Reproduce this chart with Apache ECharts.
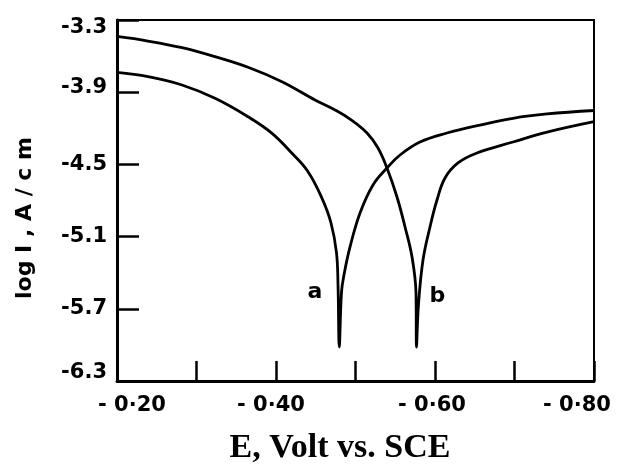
<!DOCTYPE html>
<html>
<head>
<meta charset="utf-8">
<script src="https://cdn.jsdelivr.net/npm/echarts@6/dist/echarts.min.js"></script>
<style>html,body{margin:0;padding:0;background:#fff;}#c{width:617px;height:464px;}</style>
</head>
<body>
<div id="c"></div>
<script>
// Curve a: E (V vs SCE), log I
const curveA_E = [-0.2000,-0.2390,-0.2818,-0.3233,-0.3648,-0.3950,-0.4201,-0.4403,-0.4579,-0.4692,-0.4761,-0.4780,-0.4796,-0.4824,-0.4855,-0.4931,-0.5057,-0.5220,-0.5396,-0.5560,-0.5811,-0.6151,-0.6566,-0.6981,-0.7409,-0.8000];
const curveA_logI = [-3.736,-3.771,-3.840,-3.951,-4.104,-4.242,-4.408,-4.561,-4.782,-4.987,-5.236,-5.502,-6.018,-5.560,-5.419,-5.186,-4.904,-4.671,-4.530,-4.422,-4.314,-4.239,-4.173,-4.117,-4.081,-4.052];
// Curve b
const curveB_E = [-0.2000,-0.2390,-0.2818,-0.3233,-0.3648,-0.4075,-0.4491,-0.4743,-0.4931,-0.5145,-0.5283,-0.5396,-0.5522,-0.5623,-0.5711,-0.5761,-0.5767,-0.5792,-0.5849,-0.5937,-0.6025,-0.6126,-0.6289,-0.6528,-0.6981,-0.7409,-0.8000];
const curveB_logI = [-3.437,-3.475,-3.530,-3.605,-3.693,-3.813,-3.965,-4.048,-4.123,-4.239,-4.364,-4.530,-4.771,-5.020,-5.270,-5.569,-6.018,-5.668,-5.295,-5.020,-4.796,-4.613,-4.488,-4.405,-4.314,-4.231,-4.144];
const curveLabels = ['a','b'];
const labelPosA = [-0.449,-5.56];
const labelPosB = [-0.603,-5.60];
const yTickLabels = ['-6.3','-5.7','-5.1','-4.5','-3.9','-3.3'];
const xTickLabels = ['- 0·20','- 0·40','- 0·60','- 0·80'];
const xTitle = 'E, Volt vs. SCE';
const yTitle = 'log I , A / c m';

const zip = (xs, ys) => xs.map((x, i) => [x, ys[i]]);
const chart = echarts.init(document.getElementById('c'), null, {renderer:'canvas'});
const numFont = '"DejaVu Sans", sans-serif';

function xLabel(v){
  const k = Math.round(-v*100);
  const map = {20:0,40:1,60:2,80:3};
  if(map[k] === undefined) return '';
  const t = xTickLabels[map[k]];
  if(k===20) return '{l|' + t + '}';
  if(k===80) return '{r|' + t + '}';
  if(k===40) return '{m|' + t + '}';
  return '{n|' + t + '}';
}
function yLabel(v){
  const s = v.toFixed(1);
  const idx = yTickLabels.indexOf(s);
  if(idx < 0) return '';
  const t = yTickLabels[idx];
  if(idx === 5) return '{dn|' + t + '}';
  if(idx === 0) return '{up|' + t + '}';
  if(idx === 4) return '{up2|' + t + '}';
  return '{n|' + t + '}';
}

const lblStyle = {fontFamily:numFont,fontSize:21,fontWeight:'bold',color:'#000'};

chart.setOption({
  animation:false,
  backgroundColor:'#fff',
  grid:{left:117,right:23,top:20,bottom:83,show:true,borderColor:'#000',borderWidth:2,containLabel:false},
  xAxis:{
    type:'value', inverse:true, min:-0.8, max:-0.2, interval:0.1,
    axisLine:{show:true,lineStyle:{color:'#000',width:3}},
    axisTick:{show:true,inside:true,length:20,lineStyle:{color:'#000',width:2.5}},
    splitLine:{show:false},
    axisLabel:{
      margin:14, color:'#000', fontFamily:numFont, fontSize:21, fontWeight:'bold',
      formatter:xLabel,
      rich:{
        n:Object.assign({},lblStyle,{padding:[0,6,0,0]}),
        m:Object.assign({},lblStyle,{padding:[0,10,0,0]}),
        l:Object.assign({},lblStyle,{padding:[0,0,0,30]}),
        r:Object.assign({},lblStyle,{padding:[0,34,0,0]})
      }
    }
  },
  yAxis:{
    type:'value', min:-6.3, max:-3.3, interval:0.6,
    axisLine:{show:true,lineStyle:{color:'#000',width:3}},
    axisTick:{show:true,inside:true,length:22,lineStyle:{color:'#000',width:2.5}},
    splitLine:{show:false},
    axisLabel:Object.assign({margin:10,formatter:yLabel},lblStyle,{
      rich:{
        n:Object.assign({},lblStyle),
        dn:Object.assign({},lblStyle,{padding:[16,0,0,0]}),
        up:Object.assign({},lblStyle,{padding:[0,0,16,0]}),
        up2:Object.assign({},lblStyle,{padding:[0,0,10,0]})
      }
    })
  },
  graphic:[
    {type:'text',x:340,y:448,style:{text:xTitle,align:'center',verticalAlign:'middle',font:'bold 34px "Liberation Serif", "Times New Roman", serif',fill:'#000'}},
    {type:'text',rotation:Math.PI/2,x:25,y:218,style:{text:yTitle,align:'center',verticalAlign:'middle',font:'bold 22px "DejaVu Sans", sans-serif',fill:'#000'}}
  ],
  series:[
    {type:'line',name:curveLabels[0],data:zip(curveA_E,curveA_logI),symbol:'none',smooth:0.4,
     lineStyle:{color:'#000',width:2.8},
     markPoint:{symbol:'circle',symbolSize:0,data:[{coord:labelPosA,label:Object.assign({show:true,formatter:curveLabels[0],position:'inside'},lblStyle,{fontSize:22})}]}},
    {type:'line',name:curveLabels[1],data:zip(curveB_E,curveB_logI),symbol:'none',smooth:0.4,
     lineStyle:{color:'#000',width:2.8},
     markPoint:{symbol:'circle',symbolSize:0,data:[{coord:labelPosB,label:Object.assign({show:true,formatter:curveLabels[1],position:'inside'},lblStyle,{fontSize:22})}]}}
  ]
});
</script>
</body>
</html>
